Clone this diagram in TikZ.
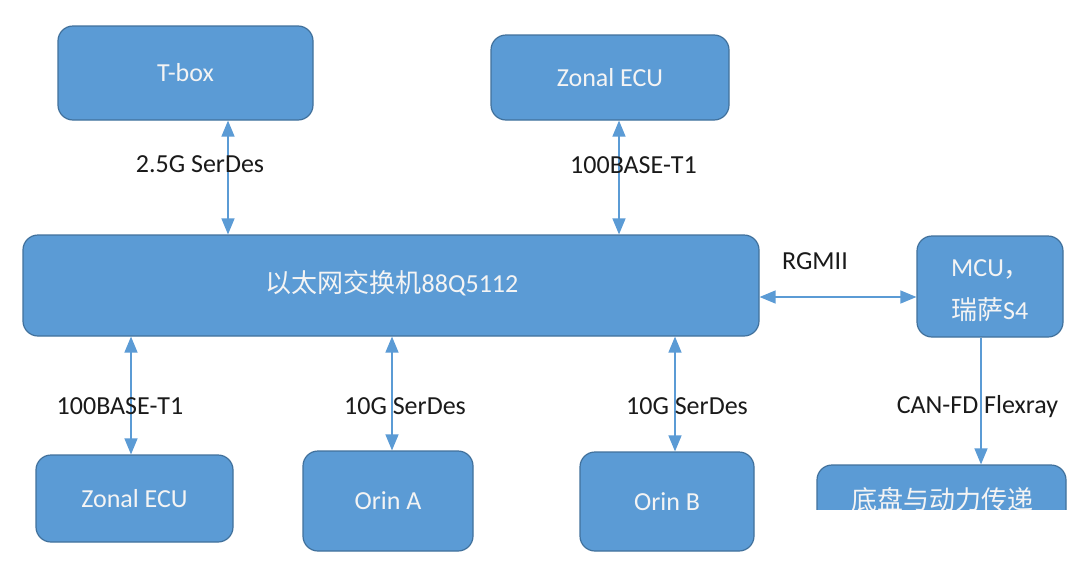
\documentclass[tikz,border=0pt]{standalone}
\usepackage{fontspec}
\setmainfont{Carlito}
\newfontfamily\cjk{Noto Sans CJK SC}
\usetikzlibrary{arrows.meta}
\definecolor{boxfill}{HTML}{5B9BD5}
\definecolor{boxline}{HTML}{41719C}
\definecolor{linkcol}{HTML}{5B9BD5}
\definecolor{boxtxt}{HTML}{F4F4F4}
\definecolor{labtxt}{HTML}{1A1A1A}
\begin{document}
\begin{tikzpicture}[x=1pt,y=-1pt,
  box/.style={draw=boxline, line width=1.2pt, fill=boxfill, rounded corners=15pt,
    inner sep=0pt, text=boxtxt, font=\fontsize{26}{30}\selectfont},
  boxtext/.style={inner sep=0pt, text=boxtxt, font=\fontsize{26}{43}\selectfont},
  lab/.style={inner sep=0pt, text=labtxt, font=\fontsize{26}{30}\selectfont},
  link/.style={draw=linkcol, line width=1.4pt, {Triangle[width=13pt,length=16pt]}-{Triangle[width=13pt,length=16pt]}},
  onelink/.style={draw=linkcol, line width=1.4pt, -{Triangle[width=13pt,length=16pt]}}
]
\useasboundingbox[fill=white] (0,0) rectangle (1080,568);

% boxes
\node[box, minimum width=255pt, minimum height=94pt] (tbox) at (185.5,73) {T-box};
\node[box, minimum width=238pt, minimum height=85pt] (ztop) at (610,77.5) {Zonal ECU};
\node[box, minimum width=736pt, minimum height=101pt] (sw) at (391,285.5) {};
\node[boxtext] (swtext) at (392,283) {{\cjk 以太网交换机}88Q5112};
\node[box, minimum width=146pt, minimum height=101pt] (mcu) at (990,286.5) {};
\node[boxtext, anchor=west, align=left] (mcutext) at (951,291) {MCU{\cjk ，}\\{\cjk 瑞萨}S4};
\node[box, minimum width=197pt, minimum height=87pt] (zbot) at (134.5,498.5) {Zonal ECU};
\node[box, minimum width=170pt, minimum height=100pt] (orina) at (388,501) {Orin A};
\node[box, minimum width=174pt, minimum height=99pt] (orinb) at (667,501.5) {Orin B};
\node[box, minimum width=249pt, minimum height=76pt] (chassis) at (941.5,503) {};
\node[boxtext] (chtext) at (942,500) {\cjk 底盘与动力传递};

% connector positions
\coordinate (c1) at (228,0);
\coordinate (c2) at (619,0);
\coordinate (c3) at (0,297);
\coordinate (c4) at (131,0);
\coordinate (c5) at (392,0);
\coordinate (c6) at (675,0);
\coordinate (c7) at (981,0);

\draw[link] (tbox.south -| c1) -- (sw.north -| c1);
\draw[link] (ztop.south -| c2) -- (sw.north -| c2);
\draw[link] (sw.east |- c3) -- (mcu.west |- c3);
\draw[link] (sw.south -| c4) -- (zbot.north -| c4);
\draw[link] (sw.south -| c5) -- (orina.north -| c5);
\draw[link] (sw.south -| c6) -- (orinb.north -| c6);
\draw[onelink] (mcu.south -| c7) -- (chassis.north -| c7);

% labels
\node[lab] (l1) at (200,164) {2.5G SerDes};
\node[lab] (l2) at (633.5,165) {100BASE-T1};
\node[lab] (l3) at (815,261) {RGMII};
\node[lab] (l4) at (120,406) {100BASE-T1};
\node[lab] (l5) at (405,406) {10G SerDes};
\node[lab] (l6) at (687,406) {10G SerDes};
\node[lab] (l7) at (977.5,407) {CAN-FD Flexray};

% cropped-off lower right of the picture
\fill[white] (760,510) rectangle (1080,568);
\end{tikzpicture}
\end{document}
